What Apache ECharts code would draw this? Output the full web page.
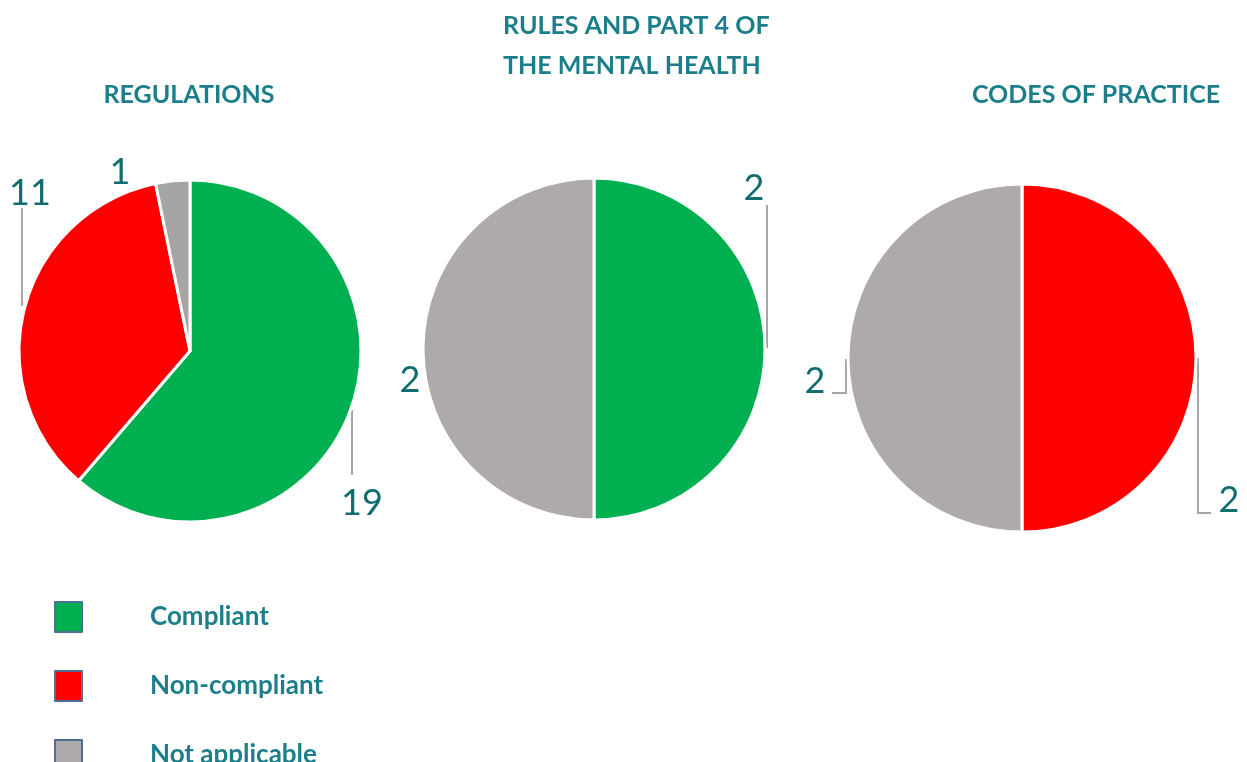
<!DOCTYPE html>
<html>
<head>
<meta charset="utf-8">
<script src="https://cdn.jsdelivr.net/npm/echarts@6/dist/echarts.min.js"></script>
<style>
  html, body { margin: 0; padding: 0; background: #fff; }
  #main { width: 1247px; height: 762px; }
</style>
</head>
<body>
<div id="main"></div>
<script>
var categories = ["Compliant", "Non-compliant", "Not applicable"];
var regulationsValues = [19, 11, 1];
var rulesValues = [2, 0, 2];
var codesValues = [0, 2, 2];

var colors = { "Compliant": "#00b050", "Non-compliant": "#ff0000", "Not applicable": "#aeaaaa" };
var titleColor = "#1b7e8a";
var numColor = "#116d6e";
var fontFamily = "Lato, 'Open Sans', sans-serif";

// where each number sits and how its leader line runs (per pie, by category)
var labelSpots = [
  {
    "Compliant": { x: 362, y: 503, line: [[352, 410], [352, 475]] },
    "Non-compliant": { x: 30, y: 193, line: [[22, 208], [22, 306]] },
    "Not applicable": { x: 120, y: 172 }
  },
  {
    "Compliant": { x: 754, y: 188, line: [[767, 205], [767, 348]] },
    "Not applicable": { x: 410, y: 380 }
  },
  {
    "Non-compliant": { x: 1229, y: 500, line: [[1198, 358], [1198, 513], [1211, 513]] },
    "Not applicable": { x: 815, y: 381, line: [[846, 359], [846, 393], [832, 393]] }
  }
];

var buildData = function (values, seriesIdx) {
  var out = [];
  values.forEach(function (v, i) {
    if (v === 0) return;
    var name = categories[i];
    var c = colors[name];
    if (seriesIdx === 0 && name === "Not applicable") c = "#a5a5a5";
    out.push({
      name: name,
      value: v,
      itemStyle: { color: c },
      labelLine: { show: !!labelSpots[seriesIdx][name].line }
    });
  });
  return out;
};

var pieData = [
  buildData(regulationsValues, 0),
  buildData(rulesValues, 1),
  buildData(codesValues, 2)
];
var centers = [[190, 351], [594, 349], [1022, 358]];
var radii = [171, 171, 174];

var series = pieData.map(function (d, idx) {
  return {
    type: "pie",
    center: centers[idx],
    radius: radii[idx],
    startAngle: 90,
    clockwise: true,
    data: d,
    silent: true,
    itemStyle: { borderColor: "#fff", borderWidth: 3 },
    label: {
      show: true,
      position: "outside",
      formatter: "{c}",
      color: numColor,
      fontSize: 36,
      width: 80,
      align: "center",
      fontFamily: fontFamily
    },
    labelLine: {
      show: true,
      lineStyle: { color: "#a6a6a6", width: 2 }
    },
    labelLayout: function (params) {
      var name = pieData[params.seriesIndex][params.dataIndex].name;
      var spot = labelSpots[params.seriesIndex][name];
      var res = { x: spot.x, y: spot.y, align: "center", verticalAlign: "middle" };
      if (spot.line) res.labelLinePoints = spot.line;
      return res;
    }
  };
});

var myChart = echarts.init(document.getElementById("main"));
var option = {
  animation: false,
  graphic: [
    {
      type: "text",
      x: 189,
      y: 95,
      style: {
        text: "REGULATIONS",
        fill: titleColor,
        font: "bold 25px " + fontFamily,
        textAlign: "center",
        textVerticalAlign: "middle"
      }
    },
    {
      type: "text",
      x: 503,
      y: 46,
      style: {
        text: "RULES AND PART 4 OF\nTHE MENTAL HEALTH",
        fill: titleColor,
        font: "bold 25px " + fontFamily,
        lineHeight: 40,
        textAlign: "left",
        textVerticalAlign: "middle"
      }
    },
    {
      type: "text",
      x: 1096,
      y: 95,
      style: {
        text: "CODES OF PRACTICE",
        fill: titleColor,
        font: "bold 25px " + fontFamily,
        textAlign: "center",
        textVerticalAlign: "middle"
      }
    }
  ],
  legend: {
    orient: "vertical",
    left: 54,
    top: 601,
    height: 200,
    padding: 0,
    itemWidth: 27,
    itemHeight: 30,
    itemGap: 37,
    icon: "rect",
    selectedMode: false,
    itemStyle: { borderColor: "#4e6f93", borderWidth: 2 },
    textStyle: {
      color: titleColor,
      fontSize: 26,
      fontWeight: "bold",
      fontFamily: fontFamily,
      padding: [0, 0, 0, 63]
    },
    data: categories.map(function (c) {
      return { name: c, itemStyle: { color: colors[c] } };
    })
  },
  series: series
};
myChart.setOption(option);
</script>
</body>
</html>
